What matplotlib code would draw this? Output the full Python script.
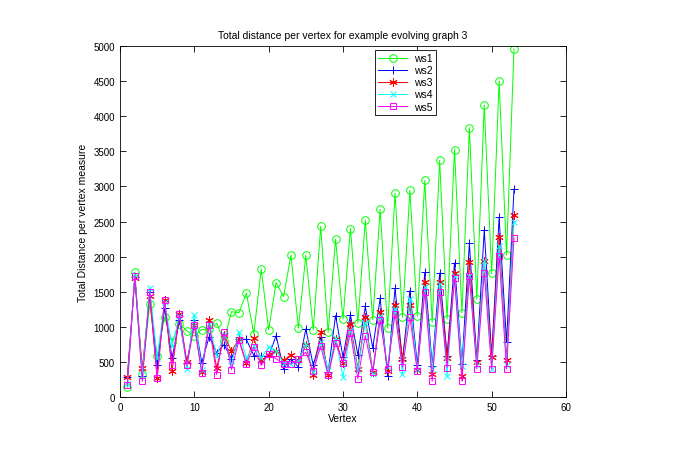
import matplotlib
matplotlib.use("Agg")
import matplotlib.pyplot as plt

plt.rcParams['font.family'] = ['Liberation Sans', 'DejaVu Sans']

vertex = list(range(1, 54))

ws1 = [140, 1780, 330, 1320, 585, 1140, 785, 1040, 945, 870,
       960, 970, 1050, 800, 1215, 1200, 1480, 900, 1820, 955,
       1630, 1430, 2020, 980, 2020, 955, 2430, 920, 2250, 1110,
       2400, 1055, 2520, 1100, 2675, 980, 2900, 1135, 2945, 1150,
       3085, 1065, 3370, 1110, 3525, 1200, 3835, 1395, 4160, 1760,
       4505, 2020, 4960]
ws2 = [290, 1705, 300, 1500, 450, 1265, 555, 1090, 480, 1100,
       490, 860, 630, 745, 545, 830, 820, 590, 580, 580,
       875, 400, 545, 425, 970, 450, 850, 355, 1160, 570,
       1170, 600, 1290, 700, 1405, 300, 1550, 520, 1515, 450,
       1775, 440, 1765, 590, 1910, 465, 2190, 520, 2380, 590,
       2560, 780, 2960]
ws3 = [285, 1700, 410, 1445, 270, 1385, 370, 1180, 500, 1030,
       355, 1100, 410, 885, 650, 830, 480, 840, 520, 600,
       660, 520, 600, 520, 735, 310, 930, 310, 820, 485,
       1040, 400, 1135, 355, 1205, 365, 1310, 545, 1310, 380,
       1640, 330, 1635, 560, 1760, 300, 1920, 500, 1940, 570,
       2275, 520, 2595]
ws4 = [190, 1740, 320, 1550, 550, 1350, 725, 1150, 400, 1170,
       380, 1040, 590, 880, 450, 920, 560, 720, 560, 710,
       660, 490, 470, 510, 760, 360, 780, 380, 840, 285,
       945, 380, 1060, 330, 1150, 430, 1260, 330, 1395, 380,
       1560, 400, 1610, 300, 1730, 440, 1720, 460, 1940, 400,
       2150, 460, 2490]
ws5 = [175, 1725, 225, 1500, 270, 1385, 450, 1185, 450, 1030,
       345, 1030, 320, 920, 390, 805, 470, 710, 450, 615,
       545, 475, 475, 535, 640, 370, 725, 310, 770, 485,
       915, 260, 875, 355, 1090, 400, 1185, 425, 1135, 365,
       1490, 225, 1500, 420, 1690, 225, 1720, 400, 1765, 400,
       2005, 400, 2265]

series = [
    ("ws1", ws1, (0, 1, 0), 'o', 5.5),
    ("ws2", ws2, (0, 0, 1), '+', 6),
    ("ws3", ws3, (1, 0, 0), (6, 2, 0), 6),
    ("ws4", ws4, (0, 1, 1), 'x', 5),
    ("ws5", ws5, (1, 0, 1), 's', 5),
]

fig = plt.figure(figsize=(7, 4.6), dpi=100)
ax = fig.add_axes([0.1714, 0.1348, 0.6372, 0.763])

for name, vals, col, mk, ms in series:
    ax.plot(vertex, vals, color=col, marker=mk, linewidth=0.7,
            markersize=ms, markerfacecolor='none',
            markeredgecolor=col, markeredgewidth=0.7, label=name)

ax.set_xlim(0, 60)
ax.set_ylim(0, 5000)
ax.set_xticks(range(0, 61, 10))
ax.set_yticks(range(0, 5001, 500))
ax.tick_params(direction='in', top=True, right=True, labelsize=7, length=4, width=0.6)
for s in ax.spines.values():
    s.set_linewidth(0.6)

ax.set_title("Total distance per vertex for example evolving graph 3", fontsize=7.5)
ax.set_xlabel("Vertex", fontsize=7.5, labelpad=1)
ax.set_ylabel("Total Distance per vertex measure", fontsize=7.5)

leg = ax.legend(loc='upper left', bbox_to_anchor=(0.571, 0.99), fontsize=7.5,
                fancybox=False, framealpha=1, edgecolor='black',
                handlelength=2.8, borderpad=0.35, labelspacing=0.2,
                handletextpad=0.6, borderaxespad=0)
leg.get_frame().set_linewidth(0.6)

fig.savefig("out.png", dpi=100, facecolor='white')
